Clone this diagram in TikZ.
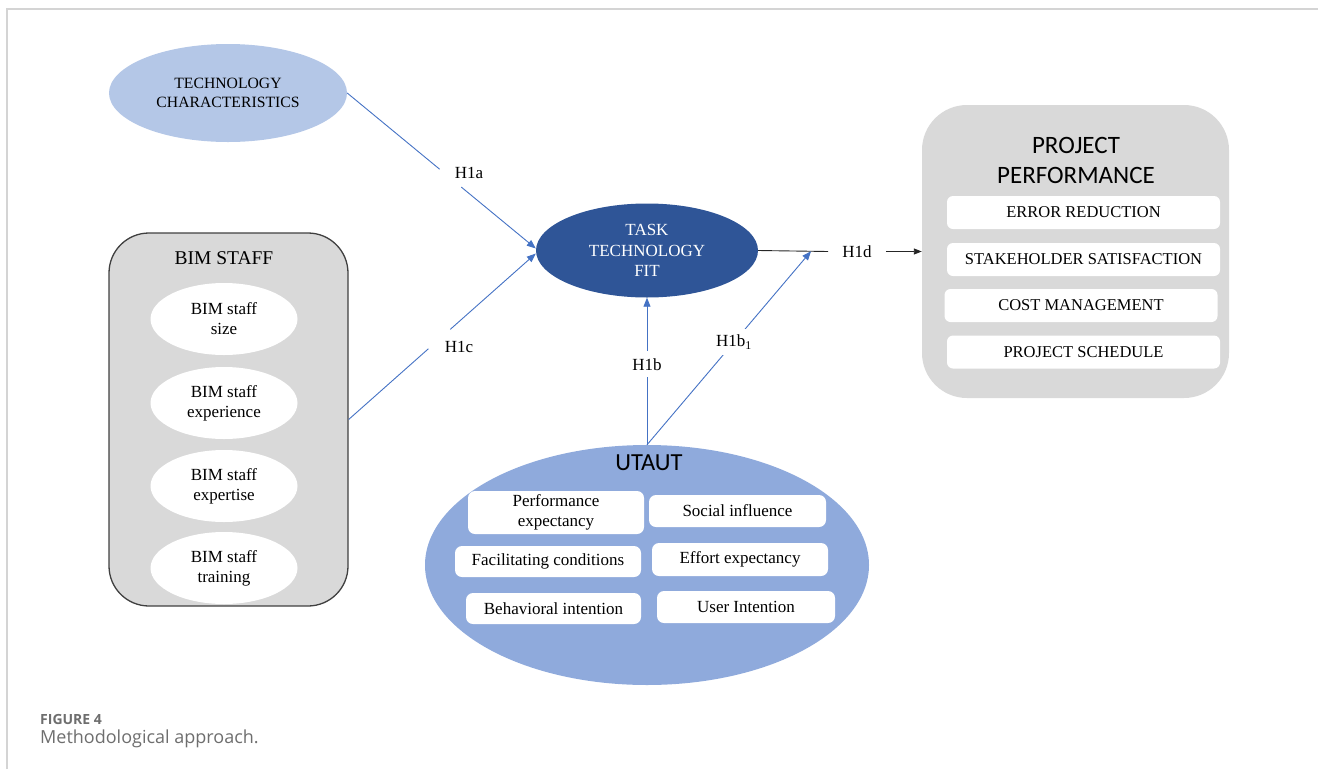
\documentclass[tikz,border=0pt]{standalone}
\usepackage{fontspec}
\setmainfont{Liberation Serif}
\newfontfamily\calibrifont{Carlito}
\newfontfamily\captionfont{Open Sans}
\usetikzlibrary{shapes.geometric,arrows.meta,calc}

\definecolor{techblue}{HTML}{B4C7E7}
\definecolor{fitblue}{HTML}{2F5597}
\definecolor{utautblue}{HTML}{8FAADC}
\definecolor{groupgrey}{HTML}{D9D9D9}
\definecolor{linkblue}{HTML}{4472C4}
\definecolor{framegrey}{HTML}{D4D4D4}
\definecolor{captiongrey}{HTML}{6E6E6E}

\begin{document}
\begin{tikzpicture}[x=1pt,y=-1pt,
  oval/.style={ellipse, inner sep=0pt, align=center},
  technode/.style={oval, fill=techblue, minimum width=238pt, minimum height=98pt,
    font=\fontsize{15.7}{19}\selectfont},
  fitnode/.style={oval, fill=fitblue, text=white, minimum width=222pt, minimum height=94pt,
    font=\fontsize{17}{20.5}\selectfont},
  staffoval/.style={oval, fill=white, minimum width=147pt, minimum height=72pt,
    font=\fontsize{17}{20}\selectfont},
  ppitem/.style={rectangle, rounded corners=6pt, fill=white, minimum width=273pt,
    minimum height=33pt, inner sep=0pt, font=\fontsize{16.5}{19}\selectfont},
  utitem/.style={rectangle, rounded corners=7pt, fill=white, inner sep=0pt, align=center,
    font=\fontsize{17}{19.5}\selectfont},
  bigtitle/.style={inner sep=0pt, align=center, font=\calibrifont\fontsize{25}{30}\selectfont},
  conn/.style={draw=linkblue, line width=0.9pt},
  blacklink/.style={draw=black!85, line width=0.9pt},
  tipb/.style={-{Triangle[length=9pt,width=7pt]}},
  hlbl/.style={inner sep=1pt, font=\fontsize{17}{20}\selectfont}
]
\useasboundingbox (0,0) rectangle (1318,769);

% figure frame
\draw[framegrey, line width=1.5pt] (7,769) -- (7,9) -- (1318,9);

% technology characteristics
\node[technode] (tc) at (228,93) {TECHNOLOGY\\CHARACTERISTICS};

% task technology fit
\node[fitnode] (ttf) at (647,250.5) {TASK\\TECHNOLOGY\\FIT};

% BIM staff group
\node[rectangle, rounded corners=40pt, fill=groupgrey, draw=black!75, line width=1.3pt,
  minimum width=239pt, minimum height=373pt, inner sep=0pt] (bim) at (228.5,419.5) {};
\node[inner sep=0pt, font=\fontsize{19.5}{22}\selectfont] (bimtitle) at (224,258) {BIM STAFF};
\node[staffoval] (s1) at (224,319) {BIM staff\\size};
\node[staffoval] (s2) at (224,403) {BIM staff\\experience};
\node[staffoval] (s3) at (224,486) {BIM staff\\expertise};
\node[staffoval] (s4) at (224,568) {BIM staff\\training};

% project performance group
\node[rectangle, rounded corners=45pt, fill=groupgrey, minimum width=307pt,
  minimum height=293pt, inner sep=0pt] (pp) at (1075.5,251.5) {};
\node[bigtitle] (pptitle) at (1076,160) {PROJECT\\PERFORMANCE};
\node[ppitem] (p1) at (1083.5,212.5) {ERROR REDUCTION};
\node[ppitem] (p2) at (1083.5,259.5) {STAKEHOLDER SATISFACTION};
\node[ppitem] (p3) at (1081,305.5) {COST MANAGEMENT};
\node[ppitem] (p4) at (1083.5,352) {PROJECT SCHEDULE};

% UTAUT group
\node[oval, fill=utautblue, minimum width=444pt, minimum height=240pt] (ut) at (647,565) {};
\node[bigtitle, font=\calibrifont\fontsize{24.5}{28}\selectfont] (uttitle) at (649,463) {UTAUT};
\node[utitem, minimum width=176pt, minimum height=43pt] (u1) at (556,512.5) {Performance\\expectancy};
\node[utitem, minimum width=177pt, minimum height=32pt] (u2) at (737.5,511) {Social influence};
\node[utitem, minimum width=186pt, minimum height=31pt] (u3) at (548,561.5) {Facilitating conditions};
\node[utitem, minimum width=176pt, minimum height=33pt] (u4) at (740,559.5) {Effort expectancy};
\node[utitem, minimum width=175pt, minimum height=31pt] (u5) at (553.5,608.5) {Behavioral intention};
\node[utitem, minimum width=178pt, minimum height=32pt] (u6) at (746,607) {User Intention};

% hypothesis labels
\node[hlbl] (h1a) at (469,173) {H1a};
\node[hlbl] (h1c) at (459,347) {H1c};
\node[hlbl, inner xsep=14pt] (h1d) at (857,251.5) {H1d};

% H1a: technology characteristics -> fit
\coordinate (fitA) at ([yshift=2pt]ttf.west);
\draw[conn] (tc.east) -- ($(tc.east)!0.49!(fitA)$);
\draw[conn,tipb] ($(tc.east)!0.605!(fitA)$) -- (fitA);

% H1c: BIM staff -> fit
\coordinate (fitC) at ([yshift=-3pt]ttf.west);
\draw[conn] (bim.east) -- ($(bim.east)!0.426!(fitC)$);
\draw[conn,tipb] ($(bim.east)!0.543!(fitC)$) -- (fitC);

% H1d: fit -> project performance
\draw[blacklink] (ttf.east) -- (h1d.west);
\draw[blacklink,-{Triangle[length=8pt,width=6pt]}] (h1d.east) -- (pp.west);
\coordinate (modpt) at ($(ttf.east)!0.755!(h1d.west)$);

% H1b and the moderating path H1b1
\draw[conn,tipb] (ut.north) -- (ttf.south)
  node[hlbl, fill=white, inner ysep=7pt, pos=0.547] (h1b) {H1b};
\draw[conn,tipb] (ut.north) -- (modpt)
  node[hlbl, fill=white, inner xsep=3pt, inner ysep=6pt, pos=0.53] (h1b1) {H1b\textsubscript{1}};

% caption
\node[anchor=base west, inner sep=0pt, text=captiongrey,
  font=\captionfont\bfseries\fontsize{14}{16}\selectfont] (figno) at (40,724) {FIGURE 4};
\node[anchor=base west, inner sep=0pt, text=captiongrey,
  font=\captionfont\fontsize{18}{21}\selectfont] (figcap) at (40,743) {Methodological approach.};
\end{tikzpicture}
\end{document}
